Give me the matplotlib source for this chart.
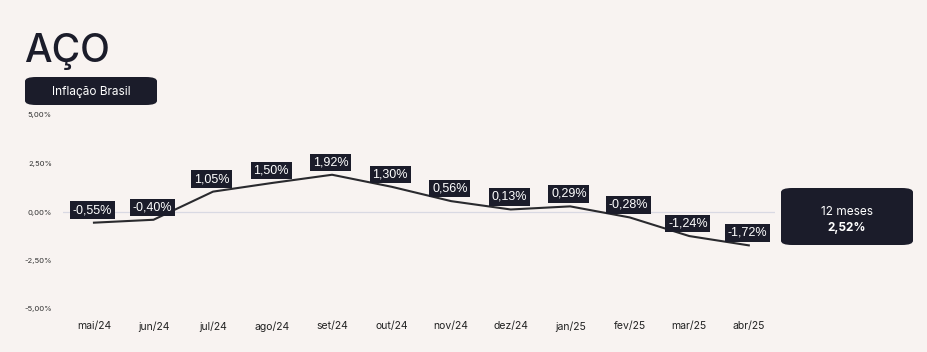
import matplotlib.pyplot as plt
from matplotlib.patches import FancyBboxPatch

meses = ['mai/24', 'jun/24', 'jul/24', 'ago/24', 'set/24', 'out/24',
         'nov/24', 'dez/24', 'jan/25', 'fev/25', 'mar/25', 'abr/25']
valores = [-0.55, -0.40, 1.05, 1.50, 1.92, 1.30, 0.56, 0.13, 0.29, -0.28, -1.24, -1.72]
yticks = [5, 2.5, 0, -2.5, -5]
acumulado = '2,52%'

bg = '#f8f3f1'
dark = '#1b1c2a'

plt.rcParams['font.family'] = ['Inter', 'DejaVu Sans']

fig = plt.figure(figsize=(9.28, 3.52), dpi=100, facecolor=bg)
ax = fig.add_axes([63 / 928, 43 / 352, 712 / 928, 194 / 352], facecolor=bg)

x = list(range(len(meses)))
ax.plot(x, valores, color='#2a2a2e', lw=1.5, zorder=3)
ax.axhline(0, color='#d9d9e3', lw=0.9, zorder=1)

for xi, v in zip(x, valores):
    txt = f'{v:.2f}%'.replace('.', ',')
    ax.annotate(txt, (xi, v), xytext=(-1, 9), textcoords='offset points',
                ha='center', va='center', fontsize=9, color='white', zorder=4,
                family=['Liberation Sans', 'DejaVu Sans'],
                bbox=dict(boxstyle='square,pad=0.22', fc=dark, ec='none'))

ax.set_xlim(-0.52, 11.44)
ax.set_ylim(-5, 5)
ax.set_xticks(x)
ax.set_xticklabels(meses, fontsize=7.5, color='#222222')
ax.set_yticks(yticks)
ax.set_yticklabels([f'{t:.2f}%'.replace('.', ',') for t in yticks], fontsize=5.5, color='#333333')
ax.tick_params(length=0, axis='x', pad=9)
ax.tick_params(length=0, axis='y', pad=8)
for s in ax.spines.values():
    s.set_visible(False)

fig.text(24 / 928, 1 - 51 / 352, 'AÇO', fontsize=28, color=dark, va='center', ha='left',
         fontweight='medium')

tag = FancyBboxPatch((25 / 928, 1 - 105 / 352), 132 / 928, 28 / 352,
                     boxstyle='round,pad=0,rounding_size=0.012', transform=fig.transFigure,
                     fc=dark, ec='none')
fig.patches.append(tag)
fig.text(91 / 928, 1 - 92 / 352, 'Inflação Brasil', fontsize=8.5, color='white', ha='center', va='center')

box = FancyBboxPatch((781 / 928, 1 - 245 / 352), 132 / 928, 57 / 352,
                     boxstyle='round,pad=0,rounding_size=0.012', transform=fig.transFigure,
                     fc=dark, ec='none')
fig.patches.append(box)
fig.text(847 / 928, 1 - 212 / 352, '12 meses', fontsize=8.5, color='white', ha='center', va='center')
fig.text(847 / 928, 1 - 228 / 352, acumulado, fontsize=8.5, color='white', ha='center', va='center',
         fontweight='bold')

fig.savefig('out.png', dpi=100, facecolor=bg)
